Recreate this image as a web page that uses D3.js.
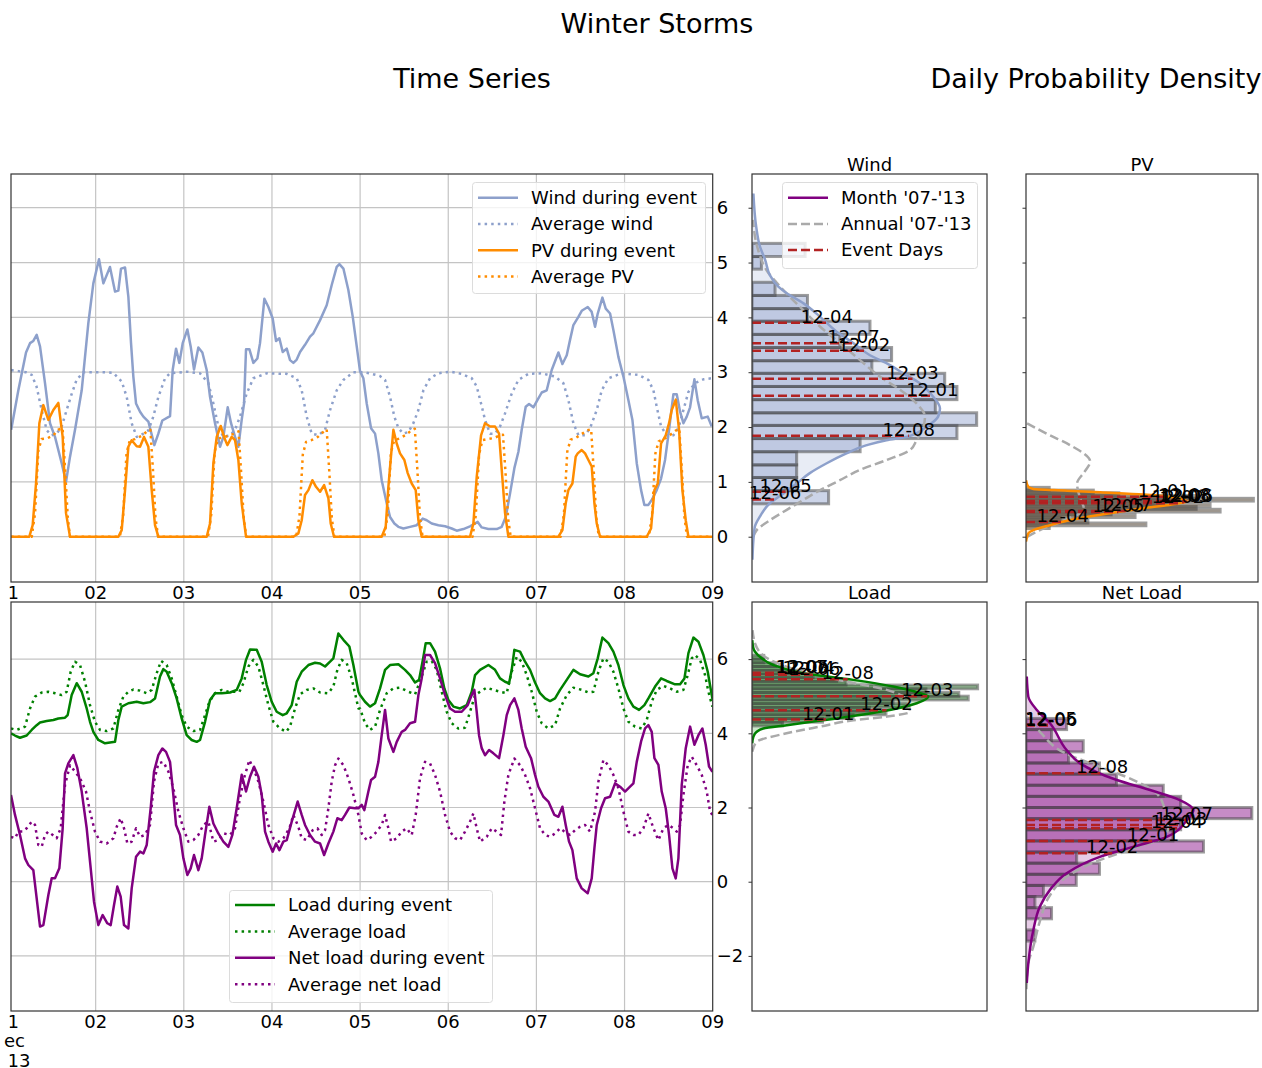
<!DOCTYPE html>
<html>
<head>
<meta charset="utf-8">
<script src="https://cdn.jsdelivr.net/npm/d3@7"></script>
<style>
  body { margin: 0; background: #fff; }
  svg { display: block; }
  text { font-family: "DejaVu Sans", sans-serif; fill: #000; }
</style>
</head>
<body>
<svg id="chart" width="1262" height="1068"></svg>
<script>
// ---------------- time series (hour since Dec 1 00:00, value) ----------------
const windEvent = [[1,1.95],[2.95,2.67],[5.04,3.36],[6.13,3.53],[7.03,3.57],[7.94,3.68],[8.85,3.47],[10.21,2.80],[11.57,2.07],[12.93,1.82],[14.75,1.34],[15.93,1.00],[17.02,1.46],[18.38,1.95],[20.2,2.67],[22.0,3.89],[23.37,4.62],[24.91,5.06],[26.1,4.62],[27.9,4.92],[29.27,4.47],[30.18,4.49],[30.9,4.89],[32.0,4.91],[32.9,4.38],[33.63,3.53],[34.26,2.92],[34.99,2.43],[36.08,2.28],[36.99,2.19],[38.35,2.10],[39.98,1.67],[41.07,1.88],[42.16,2.12],[44.25,2.20],[44.97,3.04],[45.88,3.43],[46.79,3.17],[47.7,3.53],[48.97,3.78],[49.87,3.47],[50.78,3.05],[51.96,3.45],[53.05,3.36],[54.23,3.04],[55.14,2.55],[56.5,2.07],[57.86,1.64],[58.77,1.82],[59.95,2.36],[60.86,2.07],[61.95,1.82],[62.85,1.64],[63.76,2.13],[64.4,2.43],[64.94,3.42],[65.85,3.42],[66.94,3.17],[68.03,3.25],[68.75,3.53],[69.94,4.34],[71.03,4.19],[72.2,3.98],[73.11,3.57],[74.02,3.62],[74.93,3.37],[76.02,3.43],[76.92,3.22],[77.83,3.17],[78.74,3.23],[79.65,3.37],[81.0,3.50],[82.37,3.65],[83.28,3.71],[85.1,3.95],[86.9,4.22],[88.27,4.59],[89.63,4.92],[90.36,4.97],[91.45,4.89],[92.8,4.50],[94.0,4.01],[95.08,3.47],[95.98,3.02],[96.89,2.89],[97.8,2.43],[98.98,1.98],[100.07,1.88],[100.97,1.52],[101.88,1.03],[103.24,0.61],[104.15,0.36],[105.33,0.24],[106.42,0.18],[107.78,0.15],[109.6,0.18],[111.41,0.21],[113.05,0.33],[114.13,0.30],[115.5,0.24],[117.31,0.21],[119.13,0.19],[120.94,0.15],[122.3,0.11],[124.12,0.14],[125.93,0.19],[128.02,0.27],[129.11,0.17],[130.93,0.14],[133.2,0.14],[134.56,0.18],[135.65,0.36],[136.83,0.79],[138.0,1.25],[139.1,1.55],[140.0,1.95],[141.09,2.37],[142.0,2.42],[143.18,2.36],[144.27,2.49],[145.45,2.63],[146.81,2.67],[148.17,3.04],[149.99,3.36],[151.08,3.15],[152.26,3.31],[153.16,3.59],[154.07,3.86],[155.43,4.01],[156.34,4.12],[157.98,4.19],[159.06,4.10],[159.97,3.83],[160.7,4.07],[161.97,4.36],[162.88,4.16],[164.06,4.07],[164.96,3.77],[166.32,3.28],[167.69,2.92],[169.05,2.49],[170.14,2.13],[171.32,1.34],[172.5,0.85],[173.4,0.58],[174.49,0.58],[175.4,0.67],[176.76,0.85],[177.94,1.06],[179.03,1.40],[180.12,1.95],[181.3,2.60],[182.21,2.60],[183.12,2.28],[184.02,2.07],[184.93,2.19],[185.84,2.36],[187.02,2.87],[187.92,2.49],[189.01,2.16],[190.65,2.19],[191.74,2.01]];

const windAverage = [[1,3.04],[3,3.02],[5,3.0],[6.6,2.95],[7.9,2.74],[9.3,2.31],[10.7,1.94],[12.0,1.85],[13.4,1.88],[14.75,2.01],[16.1,2.31],[17.5,2.61],[18.8,2.86],[20.65,3.0],[23,3.0],[26,3.0],[28.8,2.99],[31.1,2.83],[32.45,2.55],[33.8,2.07],[35.2,1.82],[37.0,1.88],[38.35,1.94],[39.7,2.19],[41.07,2.55],[42.9,2.89],[44.25,2.98],[48.8,3.01],[52.4,2.98],[54.7,2.80],[56.05,2.43],[57.41,2.01],[58.77,1.82],[60.59,1.85],[61.95,1.95],[63.3,2.19],[65.1,2.61],[66.94,2.89],[70.57,2.98],[76.0,2.97],[78.74,2.89],[80.1,2.67],[81.46,2.19],[82.82,1.88],[84.64,1.85],[86.46,1.95],[87.82,2.31],[89.63,2.67],[91.45,2.86],[94.17,3.0],[96.9,3.0],[99.2,2.97],[101.4,2.93],[102.79,2.86],[104.15,2.55],[105.33,2.19],[106.42,1.98],[107.78,1.88],[109.14,1.91],[110.5,2.07],[111.87,2.31],[113.23,2.67],[115.04,2.89],[117.31,2.98],[120.49,3.01],[123.66,2.97],[126.39,2.89],[127.75,2.74],[128.93,2.43],[130.02,2.13],[131.38,1.88],[132.74,1.88],[134.1,2.01],[135.46,2.25],[137.28,2.61],[139.09,2.86],[141.82,2.97],[145.45,2.98],[149.08,2.92],[151.35,2.80],[152.71,2.49],[154.07,2.07],[155.43,1.85],[157.25,1.85],[158.61,1.98],[160.43,2.31],[161.79,2.67],[163.6,2.89],[167.23,2.98],[171.77,2.95],[174.49,2.86],[175.86,2.67],[176.76,2.37],[177.94,2.01],[179.48,1.85],[181.3,1.85],[182.66,1.98],[184.02,2.31],[185.39,2.64],[187.2,2.80],[189.47,2.87],[191.74,2.89]];

const pvEvent = [[1,0],[5.94,0],[6.85,0.21],[7.76,0.97],[8.67,2.07],[9.76,2.40],[11.12,2.13],[12.48,2.31],[13.84,2.44],[15.02,1.82],[15.93,0.43],[17.02,0],[30.18,0],[31.09,0.12],[32.0,0.85],[32.9,1.64],[33.8,1.76],[35.17,1.65],[36.08,1.64],[37.17,1.82],[38.35,1.64],[39.26,0.85],[40.16,0.21],[41.07,0],[54.23,0],[55.14,0.24],[56.05,1.34],[56.96,1.82],[58.04,2.02],[58.95,1.82],[59.86,1.67],[61.04,1.82],[61.95,1.76],[62.85,1.40],[63.76,0.61],[64.94,0],[77.83,0],[79.19,0.06],[80.1,0.30],[81.0,0.76],[81.92,0.85],[83.0,1.03],[84.0,0.91],[85.1,0.82],[86.2,0.94],[87.37,0.70],[88.0,0.24],[88.9,0],[101.88,0],[102.97,0.18],[103.7,0.91],[104.4,1.46],[105.06,1.95],[105.97,1.70],[106.87,1.52],[108.05,1.40],[108.96,1.16],[110.05,0.97],[111.14,0.85],[111.87,0.30],[112.77,0],[125.93,0],[126.84,0.24],[127.75,1.09],[128.93,1.85],[130.02,2.07],[131.38,2.01],[132.74,2.01],[133.83,1.88],[134.56,1.22],[135.47,0.43],[136.37,0],[149.99,0],[151.08,0.12],[151.98,0.61],[152.71,0.85],[153.8,0.97],[154.7,1.46],[155.25,1.52],[156.34,1.58],[157.25,1.52],[158.16,1.40],[159.06,1.28],[159.79,0.61],[160.43,0.24],[161.33,0],[174.04,0],[175.22,0.15],[176.13,0.85],[177.04,0.97],[177.94,1.70],[179.21,1.85],[180.12,2.07],[180.85,2.31],[181.94,2.50],[182.84,1.95],[183.75,0.85],[184.66,0.30],[185.39,0],[192,0]];

const pvAverage = [[1,0],[6.6,0],[7.5,0.43],[8.4,1.58],[9.3,1.78],[10.7,1.79],[12.5,1.85],[13.8,1.95],[15.0,1.98],[15.7,1.20],[16.4,0.36],[17.0,0],[30.6,0],[31.5,0.40],[32.4,1.52],[33.3,1.76],[34.7,1.78],[36.5,1.84],[37.8,1.91],[38.9,1.95],[39.6,1.22],[40.3,0.34],[41.0,0],[54.6,0],[55.5,0.42],[56.4,1.55],[57.3,1.79],[58.7,1.81],[60.5,1.85],[61.8,1.88],[62.9,1.92],[63.6,1.18],[64.3,0.35],[65.0,0],[78.6,0],[79.5,0.38],[80.4,1.50],[81.3,1.73],[82.7,1.76],[84.5,1.82],[85.8,1.90],[86.9,1.96],[87.6,1.20],[88.3,0.33],[89.0,0],[102.6,0],[103.5,0.41],[104.4,1.54],[105.3,1.76],[106.7,1.79],[108.5,1.86],[109.8,1.93],[110.9,1.97],[111.6,1.21],[112.3,0.35],[113.0,0],[126.6,0],[127.5,0.39],[128.4,1.50],[129.3,1.76],[130.7,1.78],[132.5,1.80],[133.8,1.84],[134.9,1.86],[135.6,1.16],[136.3,0.33],[137.0,0],[150.6,0],[151.5,0.42],[152.4,1.55],[153.3,1.77],[154.7,1.80],[156.5,1.88],[157.8,1.94],[158.9,1.96],[159.6,1.21],[160.3,0.35],[161.0,0],[174.6,0],[175.5,0.40],[176.4,1.52],[177.3,1.74],[178.7,1.78],[180.5,1.86],[181.8,1.93],[182.9,1.97],[183.6,1.22],[184.3,0.36],[185.0,0],[192,0]];

const loadEvent = [[0.95,4.00],[2.04,3.94],[3.40,3.88],[5.22,3.94],[6.58,4.09],[7.94,4.22],[8.85,4.29],[10.66,4.33],[12.48,4.36],[13.84,4.40],[15.66,4.42],[16.38,4.49],[17.47,5.03],[18.84,5.35],[20.2,5.12],[21.56,4.67],[22.46,4.31],[23.37,4.04],[24.73,3.82],[26.55,3.73],[29.27,3.77],[30.18,4.36],[31.09,4.72],[32.9,4.81],[35.17,4.85],[36.99,4.81],[38.8,4.84],[40.16,4.94],[41.52,5.53],[42.43,5.73],[43.34,5.66],[44.7,5.35],[46.06,4.94],[47.42,4.40],[48.78,3.95],[50.14,3.82],[51.51,3.77],[52.42,3.82],[53.78,4.31],[55.14,4.90],[56.5,5.08],[58.32,5.08],[60.59,5.10],[62.4,5.17],[63.76,5.48],[64.94,5.98],[66.03,6.26],[67.85,6.25],[69.21,5.93],[70.57,5.30],[71.93,4.85],[73.29,4.58],[74.93,4.49],[76.02,4.54],[77.38,4.76],[78.74,5.39],[80.1,5.66],[81.92,5.84],[83.73,5.90],[85.1,5.88],[86.46,5.80],[87.82,5.93],[88.72,6.02],[90.08,6.69],[91.45,6.52],[93.08,6.34],[94.17,5.84],[95.54,5.12],[95.98,5.03],[97.34,4.85],[98.7,4.72],[100.07,4.81],[101.43,5.21],[102.79,5.71],[104.15,5.84],[106.42,5.86],[108.23,5.71],[109.6,5.57],[110.96,5.37],[112.05,5.44],[113.23,6.06],[113.86,6.43],[115.04,6.43],[116.4,6.20],[117.76,5.75],[118.94,5.21],[120.03,4.90],[121.4,4.72],[123.21,4.67],[125.03,4.76],[126.39,5.12],[127.3,5.57],[128.66,5.71],[130.93,5.84],[132.74,5.71],[134.1,5.48],[135.46,5.39],[136.55,5.35],[137.28,5.71],[138.0,6.25],[139.55,6.20],[140.91,5.93],[142.27,5.71],[143.63,5.37],[144.99,5.08],[146.36,4.94],[147.72,4.87],[149.08,4.94],[150.44,5.17],[152.26,5.44],[154.07,5.71],[155.89,5.59],[158.16,5.53],[159.52,5.62],[160.7,6.02],[161.97,6.58],[163.6,6.43],[164.96,6.20],[166.32,5.84],[167.69,5.30],[169.05,4.94],[170.41,4.72],[171.95,4.63],[173.4,4.76],[174.49,4.94],[176.31,5.26],[177.94,5.48],[179.48,5.41],[181.75,5.32],[183.12,5.32],[184.3,5.48],[185.39,6.16],[186.75,6.58],[188.11,6.47],[189.47,6.11],[190.65,5.66],[191.74,5.03],[192,4.90]];

const loadAverage = [[0.95,4.13],[2.5,4.09],[4.77,4.18],[6.13,4.67],[7.49,4.99],[9.3,5.10],[11.12,5.12],[12.93,5.08],[14.75,5.03],[16.11,5.12],[17.2,5.66],[18.38,5.93],[19.74,5.84],[21.1,5.39],[22.46,4.76],[23.82,4.31],[25.19,4.09],[27.0,4.06],[28.82,4.13],[30.18,4.63],[31.54,4.99],[32.9,5.12],[34.26,5.18],[36.08,5.15],[37.9,5.08],[39.26,5.17],[40.62,5.62],[41.8,5.95],[43.34,5.84],[44.7,5.48],[46.06,4.99],[47.42,4.49],[48.78,4.18],[50.6,4.06],[52.42,4.09],[53.78,4.49],[54.96,4.85],[56.5,5.08],[58.32,5.17],[60.13,5.12],[61.49,5.12],[63.13,5.12],[64.22,5.35],[65.58,5.80],[66.94,5.98],[68.3,5.80],[69.66,5.30],[71.02,4.76],[72.39,4.31],[74.2,4.13],[75.83,4.04],[76.92,4.18],[78.28,4.67],[79.65,5.05],[81.46,5.17],[83.28,5.21],[85.1,5.10],[87.36,5.08],[88.72,5.26],[89.81,5.71],[90.99,5.98],[92.35,5.89],[93.71,5.48],[95.54,4.67],[95.98,4.67],[97.34,4.27],[98.7,4.09],[100.07,4.18],[101.43,4.63],[103.24,5.08],[105.06,5.21],[106.87,5.23],[109.14,5.12],[110.96,5.05],[112.77,5.53],[114.13,5.93],[115.5,5.95],[116.86,5.71],[118.22,5.12],[119.58,4.58],[120.94,4.27],[122.76,4.13],[124.57,4.15],[125.93,4.58],[127.3,5.03],[128.66,5.12],[130.47,5.23],[132.29,5.17],[134.1,5.12],[135.92,5.08],[137.28,5.66],[138.64,6.06],[140.0,5.93],[141.36,5.57],[142.73,5.12],[144.09,4.58],[145.45,4.27],[147.26,4.13],[149.08,4.22],[150.44,4.67],[152.26,5.03],[154.07,5.23],[156.34,5.17],[158.16,5.10],[159.52,5.12],[160.88,5.66],[162.24,6.02],[163.6,5.93],[164.96,5.66],[166.32,5.21],[167.69,4.67],[169.05,4.31],[170.86,4.18],[172.68,4.13],[174.04,4.36],[175.4,4.85],[176.76,5.17],[178.58,5.28],[180.39,5.21],[182.21,5.12],[184.02,5.17],[185.2,5.57],[186.29,6.02],[187.2,6.11],[188.56,5.98],[189.92,5.57],[190.83,5.12],[191.92,4.72]];

const netEvent = [[0.95,2.34],[2.04,1.80],[3.4,1.26],[4.77,0.63],[5.67,0.45],[7.03,0.31],[7.94,-0.45],[8.85,-1.21],[9.76,-1.17],[11.12,-0.36],[12.03,0.09],[12.93,0.09],[14.11,0.36],[15.02,1.44],[15.66,2.92],[16.56,3.19],[17.93,3.41],[19.02,3.06],[20.2,2.43],[21.56,1.44],[22.65,0.36],[23.55,-0.54],[24.73,-1.17],[25.91,-0.90],[27.18,-1.12],[28.09,-1.17],[29.0,-0.63],[29.9,-0.13],[30.81,-0.40],[31.72,-1.17],[32.9,-1.26],[33.81,-0.18],[34.99,0.67],[36.08,0.81],[36.99,0.76],[37.9,0.99],[38.98,1.98],[39.89,2.97],[41.07,3.41],[42.16,3.59],[43.16,3.50],[44.25,3.23],[45.15,2.34],[45.88,1.53],[46.97,1.26],[47.88,0.63],[48.97,0.18],[49.87,0.36],[50.78,0.72],[51.96,0.31],[52.87,0.63],[53.78,1.26],[54.96,2.02],[56.05,1.57],[57.41,1.30],[58.77,1.08],[60.13,0.94],[61.22,1.26],[62.4,1.98],[63.76,2.88],[64.94,2.43],[66.03,2.83],[67.12,3.10],[68.3,2.83],[69.21,2.34],[70.12,1.35],[71.02,1.08],[72.2,0.81],[73.11,1.03],[74.02,0.85],[75.1,1.08],[76.02,1.12],[77.38,1.62],[79.0,2.16],[80.1,1.80],[81.0,1.53],[82.37,1.26],[83.73,1.08],[85.1,1.03],[86.2,0.72],[87.36,1.03],[88.72,1.35],[89.81,1.71],[90.99,1.66],[91.9,1.80],[93.08,2.00],[94.62,1.98],[95.53,1.98],[96.44,2.07],[97.16,1.93],[98.25,2.43],[98.98,2.74],[100.07,2.83],[100.97,3.23],[101.88,3.95],[102.79,4.63],[103.7,3.86],[105.06,3.50],[105.97,3.77],[107.33,4.04],[108.23,4.09],[109.6,4.27],[110.96,4.31],[111.87,5.03],[112.77,5.48],[113.68,6.11],[115.04,6.11],[116.4,5.89],[117.76,5.48],[119.13,5.03],[120.49,4.67],[121.85,4.58],[123.66,4.58],[125.3,4.76],[126.39,5.03],[127.11,5.17],[127.75,4.58],[128.38,3.95],[129.11,3.60],[130.02,3.41],[131.11,3.55],[132.29,3.46],[133.83,3.33],[135.01,3.95],[135.92,4.49],[136.83,4.76],[138.0,4.94],[139.09,4.63],[140.0,4.13],[141.09,3.64],[142.54,3.33],[143.63,2.88],[144.54,2.56],[145.9,2.29],[147.26,2.16],[148.9,1.80],[149.99,1.75],[151.08,2.02],[151.98,1.53],[152.89,1.08],[153.8,0.85],[154.98,0.09],[156.34,-0.18],[157.97,-0.31],[159.06,0.09],[159.79,0.90],[160.43,1.53],[161.6,1.98],[162.69,2.25],[164.06,2.29],[165.42,2.65],[166.78,2.56],[168.14,2.43],[169.5,2.56],[170.41,2.65],[171.32,3.23],[172.5,3.78],[173.58,4.13],[174.49,4.22],[175.4,4.04],[176.13,3.33],[177.22,3.15],[178.12,2.43],[179.21,1.98],[180.12,1.26],[181.03,0.36],[181.93,0.09],[182.66,0.63],[183.57,2.61],[184.66,3.60],[185.84,4.18],[187.02,3.69],[188.11,3.95],[189.2,4.13],[190.1,3.69],[191.01,3.10],[191.92,2.96]];

const netAverage = [[0.95,1.21],[2.04,1.17],[2.95,1.35],[4.13,1.35],[5.22,1.44],[6.58,1.62],[7.49,1.53],[8.4,0.99],[9.3,0.94],[10.21,1.26],[11.12,1.35],[12.3,1.26],[13.39,1.17],[14.48,1.44],[15.66,2.61],[17.02,3.14],[18.38,2.97],[19.74,2.79],[21.37,2.43],[22.46,1.89],[23.82,1.35],[25.19,1.08],[27.0,1.03],[28.82,1.17],[29.73,1.48],[30.81,1.71],[31.72,1.44],[32.63,1.03],[33.81,1.08],[34.99,1.44],[36.08,1.21],[37.44,1.26],[38.8,1.53],[39.89,2.70],[41.07,3.19],[42.43,3.23],[43.79,2.97],[45.15,2.52],[46.52,1.89],[47.88,1.44],[49.24,1.08],[50.6,1.12],[51.96,1.26],[53.32,1.53],[54.69,1.62],[56.05,1.08],[57.41,1.12],[58.95,1.30],[60.59,1.26],[61.95,1.44],[63.13,2.16],[64.4,2.79],[65.85,3.28],[66.94,3.06],[68.3,2.70],[69.66,2.16],[71.02,1.53],[72.39,1.17],[73.75,1.08],[75.1,1.17],[76.74,1.44],[77.83,1.80],[79.19,1.48],[80.1,1.17],[81.46,1.12],[83.1,1.39],[84.37,1.44],[85.55,1.26],[86.46,1.39],[87.36,1.98],[88.27,2.70],[89.18,3.14],[90.08,3.32],[91.45,3.14],[92.81,2.79],[94.17,2.34],[95.54,1.80],[96.44,1.30],[97.8,1.12],[99.16,1.21],[100.52,1.35],[101.88,1.53],[102.79,1.80],[103.7,1.44],[104.42,1.08],[105.97,1.17],[107.33,1.35],[108.69,1.44],[110.05,1.26],[111.14,1.80],[112.32,2.79],[113.68,3.23],[115.04,3.19],[116.4,2.88],[117.76,2.43],[119.13,1.80],[120.49,1.35],[121.85,1.17],[123.21,1.12],[124.57,1.35],[125.93,1.62],[126.84,1.84],[127.75,1.44],[128.66,1.08],[130.47,1.21],[131.83,1.44],[133.19,1.35],[134.37,1.26],[135.28,2.16],[136.37,2.88],[138.0,3.32],[139.55,3.14],[140.91,2.88],[142.27,2.52],[143.63,1.98],[144.99,1.44],[146.36,1.26],[147.72,1.21],[149.08,1.30],[150.44,1.44],[151.62,1.35],[153.16,1.26],[154.53,1.39],[155.89,1.48],[157.25,1.53],[158.61,1.35],[159.97,1.89],[160.88,2.70],[162.24,3.28],[163.6,3.14],[164.96,2.88],[166.32,2.52],[167.69,1.89],[169.05,1.35],[170.41,1.26],[171.77,1.26],[173.13,1.44],[174.49,1.84],[175.86,1.44],[177.22,1.12],[178.58,1.44],[179.94,1.53],[181.3,1.44],[182.21,1.35],[183.12,1.53],[184.02,2.34],[185.2,3.14],[186.29,3.37],[187.66,3.14],[189.02,2.88],[190.38,2.43],[191.29,1.89],[191.92,1.80]];

// ---------------- daily distributions ----------------
const eventDays = ["12-01","12-02","12-03","12-04","12-05","12-06","12-07","12-08"];
const windDaily = [2.57, 3.39, 2.88, 3.90, 0.82, 0.68, 3.53, 1.84];
const pvDaily   = [0.73, 0.61, 0.63, 0.27, 0.45, 0.64, 0.47, 0.65];
const loadDaily = [4.37, 4.62, 5.00, 5.60, 5.62, 5.58, 5.63, 5.46];
const netDaily  = [1.10, 0.77, 1.53, 1.44, 4.23, 4.21, 1.66, 2.92];

const windBinEdges = [0.60,0.84,1.08,1.31,1.55,1.79,2.03,2.26,2.50,2.74,2.98,3.21,3.45,3.69,3.93,4.16,4.40,4.64,4.88,5.11,5.35];
const windBinDensity = [0.163,0.095,0.095,0.095,0.23,0.436,0.478,0.39,0.436,0.41,0.255,0.297,0.187,0.251,0.118,0.118,0.049,0,0.02,0.113];
const pvBinEdges = [0.15,0.20,0.25,0.30,0.35,0.40,0.45,0.50,0.55,0.60,0.65,0.70,0.75,0.80,0.85,0.90];
const pvBinDensity = [0.3,1.55,0.8,0.44,1.41,1.1,2.51,2.2,2.38,1.9,2.94,2.2,1.2,0.87,0.3];
const loadBinEdges = [4.2,4.3,4.4,4.5,4.6,4.7,4.8,4.9,5.0,5.1,5.2,5.3,5.4,5.5,5.6,5.7,5.8,5.9,6.0,6.1];
const loadBinDensity = [0.13,0.30,0.43,0.57,0.50,0.66,0.60,0.92,0.88,0.74,0.96,0.40,0.36,0.26,0.20,0.13,0.10,0.05,0.05];
const netBinEdges = [-1.9,-1.6,-1.3,-1.0,-0.7,-0.4,-0.1,0.2,0.5,0.8,1.1,1.4,1.7,2.0,2.3,2.6,2.9,3.2,3.5,3.8,4.1,4.4];
const netBinDensity = [0,0.023,0,0.066,0.023,0.045,0.13,0.19,0.131,0.459,0.38,0.40,0.584,0.40,0.355,0.234,0.19,0.11,0.148,0.066,0.105];

// kernel density curves as (value, density)
const windMonthKde = [[-0.42,0.001],[-0.06,0.003],[0.18,0.006],[0.37,0.017],[0.61,0.038],[0.79,0.067],[0.97,0.095],[1.16,0.123],[1.34,0.159],[1.52,0.201],[1.67,0.244],[1.76,0.286],[1.82,0.329],[2.01,0.372],[2.19,0.396],[2.34,0.40],[2.55,0.386],[2.80,0.357],[2.98,0.322],[3.16,0.287],[3.31,0.251],[3.53,0.216],[3.74,0.180],[4.01,0.145],[4.26,0.109],[4.44,0.074],[4.56,0.056],[4.77,0.038],[5.05,0.028],[5.29,0.017],[5.65,0.009],[6.26,0.003]];
const windAnnualKde = [[0.0,0.003],[0.12,0.010],[0.30,0.038],[0.49,0.074],[0.67,0.109],[0.85,0.145],[1.03,0.187],[1.22,0.230],[1.40,0.287],[1.58,0.336],[1.76,0.350],[2.01,0.365],[2.19,0.368],[2.43,0.350],[2.68,0.315],[2.92,0.272],[3.22,0.230],[3.53,0.187],[3.83,0.145],[4.19,0.102],[4.56,0.060],[4.86,0.031],[5.23,0.013],[5.78,0.002]];
const pvMonthKde = [[-0.09,0],[0.06,0.03],[0.12,0.095],[0.21,0.31],[0.29,0.53],[0.40,0.96],[0.52,1.52],[0.58,1.85],[0.64,2.08],[0.70,1.98],[0.77,1.52],[0.81,0.96],[0.84,0.53],[0.87,0.095],[0.91,0.03],[1.03,0]];
const pvAnnualKde = [[0.0,0.02],[0.1,0.15],[0.3,0.5],[0.5,0.75],[0.7,0.7],[0.97,0.66],[1.19,0.76],[1.37,0.83],[1.67,0.57],[1.85,0.31],[2.07,0.01]];
const loadMonthKde = [[3.73,0.001],[3.91,0.006],[4.04,0.02],[4.13,0.048],[4.22,0.148],[4.40,0.36],[4.58,0.545],[4.81,0.701],[4.99,0.75],[5.08,0.715],[5.26,0.601],[5.44,0.431],[5.62,0.217],[5.84,0.091],[6.06,0.034],[6.29,0.006],[6.51,0.001]];
const loadAnnualKde = [[3.50,0.001],[3.77,0.02],[4.0,0.147],[4.18,0.289],[4.35,0.431],[4.45,0.573],[4.58,0.672],[4.90,0.658],[5.17,0.573],[5.39,0.404],[5.66,0.218],[5.98,0.077],[6.42,0.013],[6.87,0.001]];
const netMonthKde = [[-2.73,0.002],[-2.2,0.006],[-1.30,0.019],[-0.67,0.036],[-0.22,0.062],[0.23,0.105],[0.67,0.191],[0.94,0.277],[1.21,0.364],[1.66,0.416],[1.93,0.433],[2.20,0.398],[2.47,0.321],[2.74,0.235],[3.19,0.14],[3.55,0.105],[4.27,0.062],[4.63,0.028],[4.99,0.006],[5.53,0.002]];
const netAnnualKde = [[-2.9,0.001],[-2.2,0.006],[-1.75,0.019],[-1.06,0.036],[-0.40,0.06],[0.13,0.105],[0.58,0.19],[0.90,0.28],[1.25,0.362],[1.60,0.37],[1.93,0.36],[2.38,0.338],[2.74,0.278],[3.10,0.19],[3.47,0.10],[4.04,0.036],[4.45,0.002]];

// ---------------- chart ----------------
const WIND = "#8da0cb", PV = "#ff8c00", LOAD = "#008000", NET = "#800080";
const EVENT = "#b22222", ANNUAL = "#aaaaaa", SPINE = "#333333", GRID = "#c4c4c4";
const DOT = "2.5,4.1", DASH = "9,4";

const svg = d3.select("#chart");
const defs = svg.append("defs");

svg.append("text").attr("x", 657).attr("y", 33).attr("text-anchor", "middle").attr("font-size", 27).text("Winter Storms");
svg.append("text").attr("x", 472).attr("y", 88).attr("text-anchor", "middle").attr("font-size", 27).text("Time Series");
svg.append("text").attr("x", 1096).attr("y", 88).attr("text-anchor", "middle").attr("font-size", 27).text("Daily Probability Density");

const TS_LEFT = 11, TS_RIGHT = 712.7;
const xTime = d3.scaleLinear().domain([0.95, 192]).range([TS_LEFT, TS_RIGHT]);
const dayHours = [0, 24, 48, 72, 96, 120, 144, 168, 192];
const dayLabels = ["01","02","03","04","05","06","07","08","09"];

const yTop = d3.scaleLinear().domain([-0.826, 6.615]).range([582, 174]);
const yBot = d3.scaleLinear().domain([-3.485, 7.539]).range([1011, 602]);

let clipCount = 0;
function clipRect(x, y, w, h) {
  const id = "clip" + (clipCount++);
  defs.append("clipPath").attr("id", id).append("rect").attr("x", x).attr("y", y).attr("width", w).attr("height", h);
  return `url(#${id})`;
}

function drawLegend(box, rows) {
  const g = svg.append("g");
  g.append("rect").attr("x", box.x).attr("y", box.y).attr("width", box.w).attr("height", box.h)
    .attr("rx", 3).attr("fill", "#fff").attr("fill-opacity", 0.8).attr("stroke", "#dcdcdc").attr("stroke-width", 1);
  rows.forEach((r, i) => {
    const cy = box.row0 + i * box.dy;
    g.append("line").attr("x1", box.lx).attr("x2", box.lx + 40).attr("y1", cy).attr("y2", cy)
      .attr("stroke", r.color).attr("stroke-width", 2.5).attr("stroke-dasharray", r.dash || null);
    g.append("text").attr("x", box.lx + 53).attr("y", cy).attr("dy", "0.35em").attr("font-size", 18).text(r.label);
  });
}

function timeSeriesPanel(cfg) {
  const y = cfg.y, top = y.range()[1], bottom = y.range()[0];
  const g = svg.append("g");
  // grid
  g.selectAll(null).data(cfg.ticks).join("line")
    .attr("x1", TS_LEFT).attr("x2", TS_RIGHT).attr("y1", d => y(d)).attr("y2", d => y(d))
    .attr("stroke", GRID).attr("stroke-width", 1.2);
  g.selectAll(null).data(dayHours.slice(1, 8)).join("line")
    .attr("x1", d => xTime(d)).attr("x2", d => xTime(d)).attr("y1", top).attr("y2", bottom)
    .attr("stroke", GRID).attr("stroke-width", 1.2);
  // series
  const clip = clipRect(TS_LEFT, top, TS_RIGHT - TS_LEFT, bottom - top);
  const line = d3.line().x(d => xTime(d[0])).y(d => y(d[1]));
  cfg.series.forEach(s => {
    g.append("path").attr("clip-path", clip).attr("d", line(s.data))
      .attr("fill", "none").attr("stroke", s.color).attr("stroke-width", 2.5)
      .attr("stroke-linejoin", "round").attr("stroke-dasharray", s.dash || null);
  });
  // frame
  g.append("rect").attr("x", TS_LEFT).attr("y", top).attr("width", TS_RIGHT - TS_LEFT).attr("height", bottom - top)
    .attr("fill", "none").attr("stroke", SPINE).attr("stroke-width", 1.2);
  // value labels on the right side
  g.append("g").attr("transform", `translate(${TS_RIGHT},0)`)
    .call(d3.axisRight(y).tickValues(cfg.ticks).tickSize(0).tickPadding(4))
    .call(a => a.select(".domain").remove())
    .attr("font-size", 18).attr("font-family", "DejaVu Sans, sans-serif")
    .selectAll("text").attr("fill", "#000");
  // day labels; the first one sits left of the frame and is partly cut off
  const base = bottom + 16.5;
  const firstClip = clipRect(9.5, base - 60, 40, 120);
  const monthClip = clipRect(4, base - 60, 40, 120);
  dayHours.forEach((h, i) => {
    const t = g.append("text").attr("x", xTime(h)).attr("y", base).attr("text-anchor", "middle")
      .attr("font-size", 18).text(dayLabels[i]);
    if (i === 0) t.attr("clip-path", firstClip);
  });
  if (cfg.month) {
    g.append("text").attr("x", xTime(0)).attr("y", base + 19.7).attr("text-anchor", "middle")
      .attr("font-size", 18).attr("clip-path", monthClip).text(cfg.month);
    g.append("text").attr("x", xTime(0)).attr("y", base + 39.4).attr("text-anchor", "middle")
      .attr("font-size", 18).attr("clip-path", firstClip).text(cfg.year);
  }
}

timeSeriesPanel({
  y: yTop, ticks: [0, 1, 2, 3, 4, 5, 6],
  series: [
    { data: windEvent, color: WIND },
    { data: windAverage, color: WIND, dash: DOT },
    { data: pvEvent, color: PV },
    { data: pvAverage, color: PV, dash: DOT }
  ]
});
timeSeriesPanel({
  y: yBot, ticks: [-2, 0, 2, 4, 6], month: "Dec", year: "2013",
  series: [
    { data: loadEvent, color: LOAD },
    { data: loadAverage, color: LOAD, dash: DOT },
    { data: netEvent, color: NET },
    { data: netAverage, color: NET, dash: DOT }
  ]
});

drawLegend({ x: 472.5, y: 182.5, w: 233, h: 111, row0: 197.7, dy: 26.3, lx: 478 }, [
  { label: "Wind during event", color: WIND },
  { label: "Average wind", color: WIND, dash: DOT },
  { label: "PV during event", color: PV },
  { label: "Average PV", color: PV, dash: DOT }
]);
drawLegend({ x: 229.5, y: 890.5, w: 263, h: 112, row0: 905, dy: 26.4, lx: 235 }, [
  { label: "Load during event", color: LOAD },
  { label: "Average load", color: LOAD, dash: DOT },
  { label: "Net load during event", color: NET },
  { label: "Average net load", color: NET, dash: DOT }
]);

function densityPanel(cfg) {
  const y = cfg.y, top = y.range()[1], bottom = y.range()[0];
  const x = d3.scaleLinear().domain(cfg.xDomain).range([cfg.x0, cfg.x1]);
  const g = svg.append("g");
  const clip = clipRect(cfg.x0, top, cfg.x1 - cfg.x0, bottom - top);
  const body = g.append("g").attr("clip-path", clip);

  const month = cfg.month.slice().sort((a, b) => a[0] - b[0]);
  const annual = cfg.annual.slice().sort((a, b) => a[0] - b[0]);

  // filled month density
  body.append("path")
    .attr("d", d3.area().curve(d3.curveMonotoneY).y(d => y(d[0])).x0(x(0)).x1(d => x(d[1]))(month))
    .attr("fill", cfg.color).attr("fill-opacity", 0.2);

  // histogram of daily values
  const bins = cfg.density.map((d, i) => ({ lo: cfg.edges[i], hi: cfg.edges[i + 1], d })).filter(b => b.d > 0);
  body.selectAll(null).data(bins).join("rect")
    .attr("x", x(0)).attr("y", b => y(b.hi)).attr("width", b => x(b.d) - x(0)).attr("height", b => y(b.lo) - y(b.hi))
    .attr("fill", cfg.color).attr("fill-opacity", cfg.barOpacity)
    .attr("stroke", "#3c3c3c").attr("stroke-opacity", 0.5).attr("stroke-width", 3);

  const kdeLine = d3.line().curve(d3.curveMonotoneY).x(d => x(d[1])).y(d => y(d[0]));
  body.append("path").attr("d", kdeLine(annual)).attr("fill", "none")
    .attr("stroke", ANNUAL).attr("stroke-width", 2.5).attr("stroke-dasharray", DASH);
  body.append("path").attr("d", kdeLine(month)).attr("fill", "none")
    .attr("stroke", cfg.color).attr("stroke-width", 2.5);

  // event days: line out to the month density, labelled at its end
  const vals = month.map(d => d[0]), dens = month.map(d => d[1]);
  const monthAt = v => {
    const i = d3.bisectLeft(vals, v);
    if (i <= 0) return dens[0];
    if (i >= vals.length) return dens[dens.length - 1];
    const t = (v - vals[i - 1]) / (vals[i] - vals[i - 1]);
    return dens[i - 1] + t * (dens[i] - dens[i - 1]);
  };
  const events = eventDays.map((label, i) => ({ label, v: cfg.daily[i], d: monthAt(cfg.daily[i]) }));
  body.selectAll(null).data(events).join("line")
    .attr("x1", x(0)).attr("x2", e => x(e.d)).attr("y1", e => y(e.v)).attr("y2", e => y(e.v))
    .attr("stroke", EVENT).attr("stroke-width", 2.5).attr("stroke-dasharray", DASH);
  g.selectAll(null).data(events).join("text")
    .attr("x", e => x(e.d)).attr("y", e => y(e.v)).attr("text-anchor", "middle")
    .attr("font-size", 18).text(e => e.label);

  // frame and ticks
  g.append("rect").attr("x", cfg.x0).attr("y", top).attr("width", cfg.x1 - cfg.x0).attr("height", bottom - top)
    .attr("fill", "none").attr("stroke", SPINE).attr("stroke-width", 1.2);
  g.append("g").attr("transform", `translate(${cfg.x0},0)`)
    .call(d3.axisLeft(y).tickValues(cfg.ticks).tickSize(3.5).tickFormat(""))
    .call(a => a.select(".domain").remove())
    .selectAll("line").attr("stroke", SPINE);
  g.append("text").attr("x", (cfg.x0 + cfg.x1) / 2).attr("y", top - 3.5).attr("text-anchor", "middle")
    .attr("font-size", 18).text(cfg.title);
}

densityPanel({ title: "Wind", y: yTop, ticks: [0,1,2,3,4,5,6], x0: 752, x1: 987, xDomain: [0, 0.5], color: WIND, barOpacity: 0.45,
  edges: windBinEdges, density: windBinDensity, month: windMonthKde, annual: windAnnualKde, daily: windDaily });
densityPanel({ title: "PV", y: yTop, ticks: [0,1,2,3,4,5,6], x0: 1026, x1: 1258, xDomain: [0, 3.0], color: PV, barOpacity: 0.12,
  edges: pvBinEdges, density: pvBinDensity, month: pvMonthKde, annual: pvAnnualKde, daily: pvDaily });
densityPanel({ title: "Load", y: yBot, ticks: [-2,0,2,4,6], x0: 752, x1: 987, xDomain: [0, 1.0], color: LOAD, barOpacity: 0.35,
  edges: loadBinEdges, density: loadBinDensity, month: loadMonthKde, annual: loadAnnualKde, daily: loadDaily });
densityPanel({ title: "Net Load", y: yBot, ticks: [-2,0,2,4,6], x0: 1026, x1: 1258, xDomain: [0, 0.6], color: NET, barOpacity: 0.45,
  edges: netBinEdges, density: netBinDensity, month: netMonthKde, annual: netAnnualKde, daily: netDaily });

drawLegend({ x: 782.5, y: 182.5, w: 195, h: 86, row0: 197.7, dy: 26.2, lx: 788 }, [
  { label: "Month '07-'13", color: NET },
  { label: "Annual '07-'13", color: ANNUAL, dash: DASH },
  { label: "Event Days", color: EVENT, dash: DASH }
]);
</script>
</body>
</html>
